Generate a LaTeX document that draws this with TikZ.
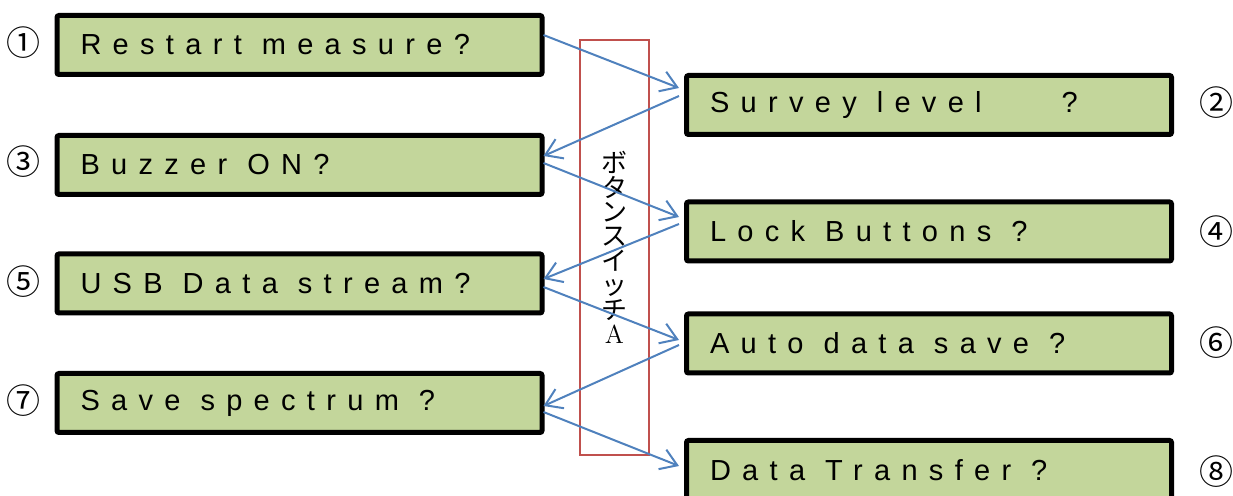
\documentclass[tikz,border=0pt]{standalone}
\usepackage{fontspec}
\newfontfamily\lcdfont{Liberation Sans}[LetterSpace=39]
\newfontfamily\jpfont{Noto Sans CJK JP}
\usetikzlibrary{arrows.meta, calc}
\definecolor{lcdgreen}{HTML}{C3D69B}
\definecolor{cblue}{HTML}{4F81BD}
\definecolor{cred}{HTML}{C0504D}
% word gap for the tracked display font
\newcommand\wsp{\hspace{10pt}}
\tikzset{
  menu/.style={draw=black, fill=lcdgreen, line width=2.5pt, rounded corners=1pt,
    minimum height=29.5pt, text width=219pt, inner xsep=11.75pt, align=left,
    font=\lcdfont\fontsize{14.5}{16}\selectfont},
  num/.style={font=\jpfont\fontsize{17}{17}\selectfont, inner sep=0pt},
  link/.style={-{Straight Barb[length=8pt, width=10.5pt]}, draw=cblue, line width=1pt},
  switch/.style={draw=cred, line width=0.75pt, minimum width=34.5pt, minimum height=207.5pt,
    align=center, inner sep=0pt,
    font={\jpfont\fontsize{13}{12.2}\selectfont\lineskiplimit -20pt}},
}

\begin{document}
\begin{tikzpicture}[x=0.5pt, y=-0.5pt]
  \useasboundingbox (0,0) rectangle (1233,496);
  % button A frame with vertical label
  \node[switch] (swA) at (614.5,247.5) {ボ\\タ\\ン\\ス\\イ\\ッ\\チ\\{\rmfamily\fontsize{13}{12.2}\selectfont A}};
  % menu screens, left and right column
  \foreach \n/\y/\t in {1/45/Restart\wsp measure?, 3/165/Buzzer\wsp ON?, 5/283.5/USB\wsp Data\wsp stream?, 7/403/Save\wsp spectrum\wsp ?}
    \node[menu] (b\n) at (299.5,\y) {\t};
  \foreach \n/\y/\t in {2/105/Survey\wsp level\wsp\wsp\wsp\wsp ?, 4/231.5/Lock\wsp Buttons\wsp ?, 6/343.5/Auto\wsp data\wsp save\wsp ?, 8/470/Data\wsp Transfer\wsp ?}
    \node[menu] (b\n) at (929,\y) {\t};
  % step numbers
  \foreach \n/\x/\y/\c in {1/23/43/①, 3/23/162/③, 5/23/282/⑤, 7/23/401/⑦, 2/1216/103/②, 4/1216/232/④, 6/1216/343/⑥, 8/1216/472/⑧}
    \node[num] (n\n) at (\x,\y) {\c};
  % each press of A goes to the next screen
  \foreach \a/\ay/\b/\by in {b1/-10/b2/-17, b3/-2/b4/-14.5, b5/3.5/b6/-3.5, b7/9/b8/-4}
    \draw[link] ($(\a.east)+(-1,\ay)$) -- ($(\b.west)+(-5,\by)$);
  \foreach \a/\ay/\b/\by in {b2/-9/b3/-9, b4/-7.5/b5/-4.5, b6/1.5/b7/3}
    \draw[link] ($(\a.west)+(-5,\ay)$) -- ($(\b.east)+(-1,\by)$);
\end{tikzpicture}
\end{document}
